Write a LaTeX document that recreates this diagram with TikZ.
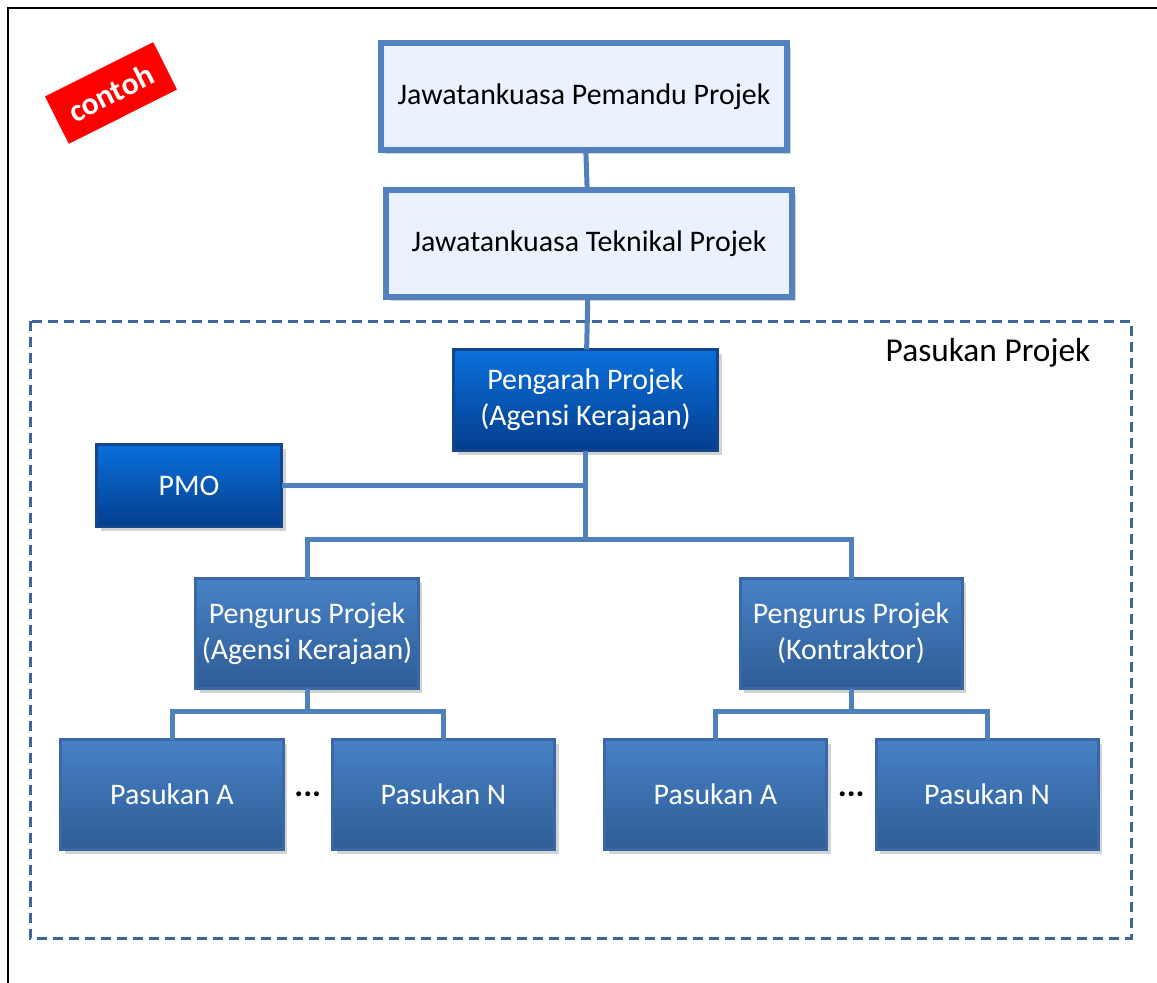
\documentclass[tikz,border=0pt]{standalone}
\usepackage{fontspec}
\setmainfont{Carlito}
\usepackage{tikz}
\usetikzlibrary{calc}
\usetikzlibrary{shadows}
\usetikzlibrary{positioning}
\definecolor{paleblue}{RGB}{234,243,253}
\definecolor{edgeblue}{RGB}{84,130,190}
\definecolor{deeptop}{RGB}{10,112,220}
\definecolor{deepbottom}{RGB}{4,62,142}
\definecolor{deepedge}{RGB}{20,70,140}
\definecolor{midtop}{RGB}{72,130,198}
\definecolor{midbottom}{RGB}{46,92,150}
\definecolor{midedge}{RGB}{58,104,165}
\definecolor{linkblue}{RGB}{79,129,189}
\definecolor{frameblue}{RGB}{62,102,152}
\definecolor{stampred}{RGB}{255,0,0}
\tikzstyle{paleblock} = [rectangle, draw=edgeblue, fill=paleblue, line width=0.12cm,
 drop shadow={opacity=0.35}, minimum width=8.12cm, minimum height=2.14cm,
 font=\fontsize{17}{20.5}\selectfont, text=black]
\tikzstyle{deepblock} = [rectangle, draw=deepedge, top color=deeptop, bottom color=deepbottom,
 line width=0.06cm, drop shadow={opacity=0.35}, align=center,
 font=\fontsize{17}{20.5}\selectfont, text=white]
\tikzstyle{midblock} = [rectangle, draw=midedge, top color=midtop, bottom color=midbottom,
 line width=0.06cm, drop shadow={opacity=0.35}, align=center,
 minimum width=4.44cm, minimum height=2.2cm,
 font=\fontsize{17}{20.5}\selectfont, text=white]
\tikzstyle{link} = [draw=linkblue, line width=0.1cm]

\begin{document}
\begin{tikzpicture}[node distance = 0cm, outer sep = 0pt]
\useasboundingbox (0,0) rectangle (23.14,-19.66);

\draw[black, line width=0.03cm] (0.16,-19.66) -- (0.16,-0.16) -- (23.14,-0.16);
\draw[frameblue, line width=0.06cm, dash pattern=on 0.2cm off 0.12cm]
 (0.6,-6.42) rectangle (22.62,-18.76);

\node[fill=stampred, text=white, font=\bfseries\fontsize{18}{21}\selectfont,
 minimum width=2.42cm, minimum height=1.06cm, inner sep=0pt, rotate=26.6] (stamp) at (2.22,-1.86) {contoh};
\node[font=\fontsize{19}{22}\selectfont] (team) at (19.76,-7.06) {Pasukan Projek};

\node[paleblock] (pemandu) at (11.68,-1.93) {Jawatankuasa Pemandu Projek};
\node[paleblock, below = 0.8cm of pemandu, xshift=0.1cm] (teknikal) {Jawatankuasa Teknikal Projek};

\node[deepblock, below = 1.05cm of teknikal, xshift=-0.07cm,
 minimum width=5.28cm, minimum height=2.02cm] (pengarah) {Pengarah Projek\\(Agensi Kerajaan)};
\node[deepblock, minimum width=3.7cm, minimum height=1.64cm] (pmo) at (3.78,-9.71) {PMO};

\node[midblock, below = 2.56cm of pengarah, xshift=-5.57cm] (pengurusA) {Pengurus Projek\\(Agensi Kerajaan)};
\node[midblock, below = 2.56cm of pengarah, xshift=5.31cm] (pengurusK) {Pengurus Projek\\(Kontraktor)};

\node[midblock, below = 1.02cm of pengurusA, xshift=-2.7cm] (pasA1) {Pasukan A};
\node[midblock, below = 1.02cm of pengurusA, xshift=2.73cm] (pasN1) {Pasukan N};
\node[midblock, below = 1.02cm of pengurusK, xshift=-2.71cm] (pasA2) {Pasukan A};
\node[midblock, below = 1.02cm of pengurusK, xshift=2.72cm] (pasN2) {Pasukan N};

\node[font=\bfseries\fontsize{19}{22}\selectfont] (dots1) at ($(pasA1.east)!0.5!(pasN1.west)$) {...};
\node[font=\bfseries\fontsize{19}{22}\selectfont] (dots2) at ($(pasA2.east)!0.5!(pasN2.west)$) {...};

% connectors
\coordinate (hub) at ($(pengarah.south)+(0,-1.78)$);
\coordinate (hubA) at ($(pengurusA.south)+(0,-0.46)$);
\coordinate (hubK) at ($(pengurusK.south)+(0,-0.46)$);

\draw[link] (pemandu) -- (teknikal);
\draw[link] (teknikal) -- (pengarah);
\draw[link] (pengarah.south) -- (hub);
\draw[link] (pmo.east) -- (pmo.east -| pengarah.south);
\draw[link] (pengurusA.north) |- (hub) -| (pengurusK.north);

\draw[link] (pengurusA.south) -- (hubA);
\draw[link] (pasA1.north) |- (hubA) -| (pasN1.north);
\draw[link] (pengurusK.south) -- (hubK);
\draw[link] (pasA2.north) |- (hubK) -| (pasN2.north);

\end{tikzpicture}
\end{document}
